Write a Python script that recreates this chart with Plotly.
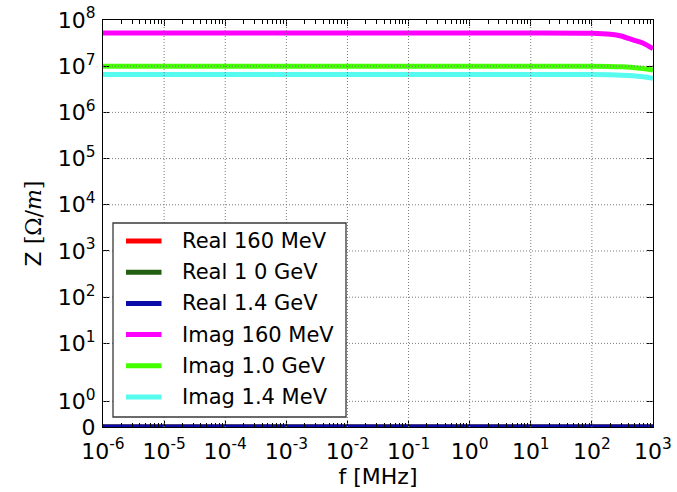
import numpy as np
import plotly.graph_objects as go

# Frequency samples [MHz] and impedance curves [Ohm/m]
freq_mhz = [1e-6, 1e-3, 1.0, 100.0, 200.0, 300.0, 470.0, 690.0, 1000.0]

real_160mev = [0.0, 0.0, 0.0, 0.0, 0.0, 0.0, 0.0, 0.0, 0.0]
real_1p0gev = [0.0, 0.0, 0.0, 0.0, 0.0, 0.0, 0.0, 0.0, 0.0]
real_1p4gev = [0.0, 0.0, 0.0, 0.0, 0.0, 0.0, 0.0, 0.0, 0.0]
imag_160mev = [5.2e7, 5.2e7, 5.2e7, 5.15e7, 4.9e7, 4.5e7, 3.7e7, 3.15e7, 2.4e7]
imag_1p0gev = [1.0e7, 1.0e7, 1.0e7, 1.0e7, 9.9e6, 9.7e6, 9.4e6, 8.9e6, 8.3e6]
imag_1p4mev = [6.6e6, 6.6e6, 6.6e6, 6.6e6, 6.5e6, 6.4e6, 6.2e6, 5.9e6, 5.5e6]

series_names = ["Real 160 MeV", "Real 1 0 GeV", "Real 1.4 GeV",
                "Imag 160 MeV", "Imag 1.0 GeV", "Imag 1.4 MeV"]
series_values = [real_160mev, real_1p0gev, real_1p4gev,
                 imag_160mev, imag_1p0gev, imag_1p4mev]
series_colors = ["#ff0000", "#215e12", "#0a0aa8",
                 "#ff00ff", "#44ff00", "#58fbf0"]

# Axis ticks
x_tick_exponents = [-6, -5, -4, -3, -2, -1, 0, 1, 2, 3]
y_tick_values = [0, 1e0, 1e1, 1e2, 1e3, 1e4, 1e5, 1e6, 1e7, 1e8]
y_tick_labels = ["0"] + ["10<sup>%d</sup>" % k for k in range(0, 9)]

# Symmetric-log mapping (linear below LINTHRESH, logarithmic above)
LINTHRESH = 2.0
LINSCALE = 1.0 / (1.0 - 1.0 / 10.0)


def symlog(v):
    v = np.asarray(v, dtype=float)
    a = np.abs(v)
    out = np.where(a <= LINTHRESH, a / LINTHRESH * LINSCALE,
                   LINSCALE + np.log10(np.maximum(a, LINTHRESH) / LINTHRESH))
    return np.sign(v) * out


FONT = "DejaVu Sans"
W, H = 677, 492
L, R, T, B = 103, 24, 20, 65
PW, PH = W - L - R, H - T - B

fig = go.Figure()
for name, vals, col in zip(series_names, series_values, series_colors):
    fig.add_trace(go.Scatter(
        x=freq_mhz, y=symlog(vals), mode="lines", name=name,
        line=dict(color=col, width=5, shape="spline", smoothing=0.8),
        showlegend=False,
    ))

# Dotted grid drawn above the curves
grid_style = dict(color="#7a7a7a", width=1, dash="1px,2px")
for e in x_tick_exponents[1:-1]:
    fig.add_shape(type="line", xref="x", yref="paper", x0=10.0 ** e, x1=10.0 ** e,
                  y0=0, y1=1, line=grid_style, layer="above")
for yv in symlog(y_tick_values[1:-1]):
    fig.add_shape(type="line", xref="paper", yref="y", x0=0, x1=1,
                  y0=float(yv), y1=float(yv), line=grid_style, layer="above")

# Legend box
def px_x(p):
    return (p - L) / PW


def px_y(p):
    return (H - B - p) / PH


fig.add_shape(type="rect", xref="paper", yref="paper",
              x0=px_x(113), x1=px_x(346), y0=px_y(417), y1=px_y(223),
              line=dict(color="#3a3a3a", width=1.3), fillcolor="white", layer="above")
row0, step = 241.0, 31.2
for i, (name, col) in enumerate(zip(series_names, series_colors)):
    yy = px_y(row0 + i * step)
    fig.add_shape(type="line", xref="paper", yref="paper",
                  x0=px_x(126), x1=px_x(161.5), y0=yy, y1=yy,
                  line=dict(color=col, width=5), layer="above")
    fig.add_annotation(xref="paper", yref="paper", x=px_x(180), y=yy,
                       text=name, showarrow=False, xanchor="left", yanchor="middle",
                       font=dict(family=FONT, size=21, color="black"))

axis_common = dict(
    showline=True, linecolor="black", linewidth=1.2, mirror="allticks",
    ticks="inside", tickcolor="black", ticklen=6, tickwidth=1,
    showgrid=False, zeroline=False, automargin=False,
    tickfont=dict(family=FONT, size=22, color="black"),
)

fig.update_xaxes(
    type="log", range=[-6, 3],
    tickvals=[10.0 ** e for e in x_tick_exponents],
    ticktext=["10<sup>%d</sup>" % e for e in x_tick_exponents],
    ticklabelstandoff=4,
    minor=dict(ticks="inside", ticklen=3.5, tickcolor="black", dtick="D1", showgrid=False),
    title=dict(text="f [MHz]", font=dict(family=FONT, size=22, color="black"), standoff=6),
    **axis_common,
)
fig.update_yaxes(
    range=[0, float(symlog(1e8))],
    tickvals=[float(v) for v in symlog(y_tick_values)],
    ticktext=y_tick_labels,
    ticklabelstandoff=2,
    title=dict(text="Z <span style='font-family:DejaVu Serif'>[Ω/<i>m</i>]</span>",
               font=dict(family=FONT, size=22, color="black"), standoff=10),
    **axis_common,
)

fig.update_layout(
    width=W, height=H,
    margin=dict(l=L, r=R, t=T, b=B),
    paper_bgcolor="white", plot_bgcolor="white",
    font=dict(family=FONT, color="black"),
)

fig.write_html("out.html")
